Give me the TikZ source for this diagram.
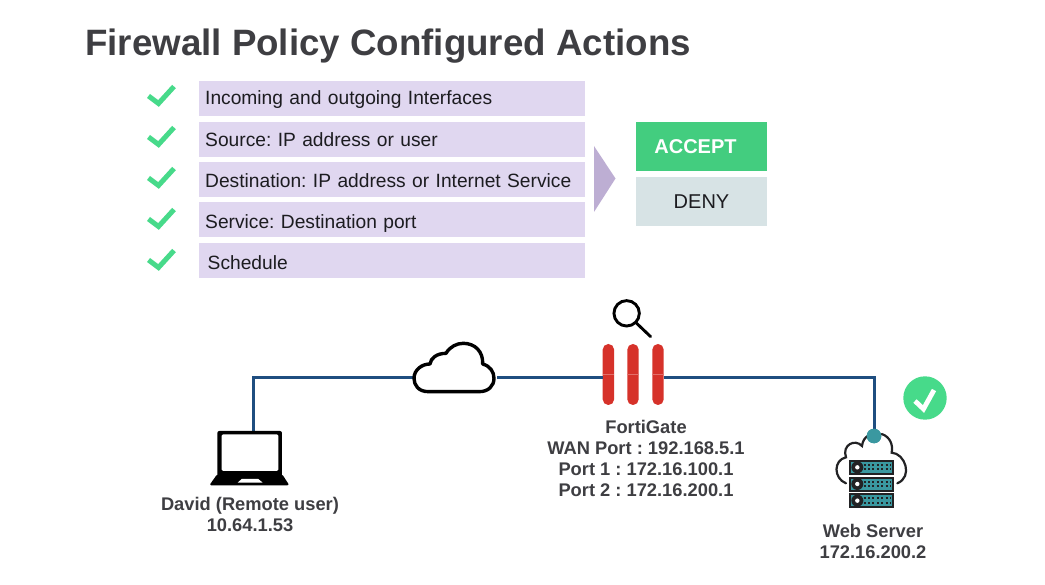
\documentclass[tikz,border=0pt]{standalone}
\usepackage{fontspec}
\setmainfont{Liberation Sans}
\usepackage{xcolor}
\usetikzlibrary{calc, shapes.geometric, positioning}

\tikzset{
    rowbox/.style={fill=rowcolor, minimum width=386.5pt, minimum height=34.5pt, anchor=west, inner xsep=6.5pt, inner ysep=0pt,
        text width=373.5pt, align=left, text depth=4pt, text height=#1, font=\fontsize{19.2}{20}\selectfont\frenchspacing, text=textdark},
    actionbox/.style={minimum width=131pt, minimum height=48.5pt, font=\fontsize{20}{22}\selectfont},
    tick/.style={line width=5pt, color=tickgreen, line join=miter},
    iconbox/.style={inner sep=0pt, outer sep=0pt},
    firebar/.style={fill=fwred, rounded corners=5.6pt, minimum width=11.4pt, minimum height=61pt, inner sep=0pt, outer sep=0pt},
    link/.style={line width=3pt, color=linkblue},
    devlabel/.style={align=center, font=\fontsize{18.3}{21}\selectfont\bfseries\frenchspacing, text=labelgray, inner sep=0pt},
}

\begin{document}
\begin{tikzpicture}[x=1pt, y=-1pt]
    \definecolor{rowcolor}{RGB}{224, 215, 240}
    \definecolor{textdark}{RGB}{28, 28, 32}
    \definecolor{labelgray}{RGB}{62, 62, 66}
    \definecolor{tickgreen}{RGB}{71, 218, 138}
    \definecolor{arrowpurple}{RGB}{189, 174, 211}
    \definecolor{acceptgreen}{RGB}{67, 205, 127}
    \definecolor{denygray}{RGB}{215, 227, 229}
    \definecolor{fwred}{RGB}{214, 50, 42}
    \definecolor{linkblue}{RGB}{31, 78, 128}
    \definecolor{tealcolor}{RGB}{58, 152, 160}
    \definecolor{icondark}{RGB}{34, 34, 36}

    \useasboundingbox (0,0) rectangle (1045,585);

    % 1. Title
    \node[anchor=base west, inner sep=0pt, text=labelgray, font=\fontsize{36.7}{40}\selectfont\bfseries] (title) at (85,55.5) {Firewall Policy Configured Actions};

    % 2. Policy rows and check marks
    \node[rowbox=15.6pt] (rowa) at (198.5,98.5) {Incoming and outgoing Interfaces};
    \node[rowbox=18.5pt] (rowb) at (198.5,139.5) {Source: IP address or user};
    \node[rowbox=19.5pt] (rowc) at (198.5,179.75) {Destination: IP address or Internet Service};
    \node[rowbox=20.6pt] (rowd) at (198.5,219.75) {Service: Destination port};
    \node[rowbox=20.6pt] (rowe) at (198.5,260.75) {\hspace*{2.5pt}Schedule};

    \draw[tick] (148.5,96) -- (158.5,103.5) -- (174,86.5);
    \draw[tick] (148.5,137) -- (158.5,144.5) -- (174,127.5);
    \draw[tick] (148.5,178) -- (158.5,185.5) -- (174,168.5);
    \draw[tick] (148.5,219) -- (158.5,226.5) -- (174,209.5);
    \draw[tick] (148.5,260) -- (158.5,267.5) -- (174,250.5);

    % 3. Arrow and actions
    \fill[arrowpurple] (594,146) -- (615.5,178.5) -- (594,212) -- cycle;
    \node[actionbox, fill=acceptgreen, text=white] (accept) at (701.5,146.5) {\hspace*{-12pt}\bfseries ACCEPT};
    \node[actionbox, fill=denygray, text=textdark] (deny) at (701.5,201.5) {DENY};

    % 4. Devices as anchors for the links
    \node[iconbox, minimum width=66pt, minimum height=44pt] (laptop) at (253,453) {};
    \node[iconbox, minimum width=84pt, minimum height=30pt] (cloudnet) at (455,378) {};
    \node[firebar] (fwa) at (608.4,374.5) {};
    \node[firebar] (fwb) at (633,374.5) {};
    \node[firebar] (fwc) at (658,374.5) {};
    \node[circle, fill=tealcolor, minimum size=14.6pt, inner sep=0pt, outer sep=0pt] (port) at (874,436) {};

    % 5. Links
    \coordinate (fwleft) at (fwa.west |- cloudnet.west);
    \coordinate (fwright) at (fwc.east |- cloudnet.east);
    \draw[link] (laptop.north) |- (cloudnet.west);
    \draw[link] (cloudnet.east) -- (fwleft);
    \draw[link] (fwright) -| (port.north);

    % 6. Firewall seams and magnifier
    \draw[fwred!70!white, line width=0.7pt] (602.7,374.5) -- +(11.4,0) (627.3,374.5) -- +(11.4,0) (652.3,374.5) -- +(11.4,0);
    \begin{scope}[shift={(400,290)}, x=0.3333pt, y=-0.3333pt]
        \draw[black, line width=2.9pt] (680,70) circle[radius=12.7pt];
        \draw[black, line width=2.9pt, line cap=round] (709,99) -- (752,140);

        % cloud outline
        \draw[black, line width=3.4pt, fill=white, line join=round]
            (85,305) .. controls (55,305) and (42,285) .. (42,265)
            .. controls (42,240) and (65,222) .. (90,222)
            .. controls (92,205) and (110,190) .. (138,190)
            .. controls (150,170) and (170,160) .. (190,160)
            .. controls (225,160) and (250,185) .. (248,222)
            .. controls (270,228) and (282,245) .. (282,265)
            .. controls (282,288) and (265,305) .. (238,305) -- cycle;
    \end{scope}

    % 7. Laptop
    \begin{scope}[shift={(200,370)}, x=0.3333pt, y=-0.3333pt]
        \fill[black, rounded corners=2pt] (52,183) rectangle (246,320);
        \fill[white, rounded corners=1.5pt] (65,193) rectangle (235,303);
        \fill[black, rounded corners=2pt] (52,312) -- (246,312) -- (268,346) -- (28,346) -- cycle;
        \fill[white] (125,327) -- (175,327) -- (188,338) -- (113,338) -- cycle;
    \end{scope}

    % 8. Web server
    \begin{scope}[shift={(820,370)}, x=0.3333pt, y=-0.3333pt]
        \draw[icondark, line width=2.2pt, line cap=round]
            (78,340) .. controls (40,325) and (40,270) .. (78,262)
            .. controls (65,225) and (105,205) .. (126,228)
            .. controls (128,212) and (135,202) .. (145,197);
        \draw[icondark, line width=2.2pt, line cap=round]
            (185,192) .. controls (210,200) and (220,225) .. (215,248)
            .. controls (255,250) and (280,320) .. (232,340);
        \foreach \ya in {270,320,370} {
            \fill[icondark] (87,\ya) rectangle (223,\ya+45);
            \fill[tealcolor] (93,\ya+6) rectangle (217,\ya+39);
            \fill[icondark] (112,\ya+22) circle[radius=6pt];
            \fill[white] (112,\ya+22) circle[radius=2.2pt];
            \draw[icondark, line width=2pt, dash pattern=on 2pt off 2.4pt] (131,\ya+15) -- (212,\ya+15);
            \draw[icondark, line width=2pt, dash pattern=on 2pt off 2.4pt] (131,\ya+28) -- (212,\ya+28);
        }
    \end{scope}
    \fill[tealcolor] (port) circle[radius=7.3pt];

    % 9. Green status badge
    \node[circle, fill=tickgreen, minimum size=43.4pt, inner sep=0pt] (okbadge) at (925,398) {};
    \draw[white, line width=4.8pt] (915,401) -- (923.5,409) -- (934,390);

    % 10. Device labels
    \node[devlabel] (fglabel) at (646,458.5) {FortiGate\\WAN Port : 192.168.5.1\\Port 1 : 172.16.100.1\\Port 2 : 172.16.200.1};
    \node[devlabel] (davidlabel) at (250,514.5) {David (Remote user)\\10.64.1.53};
    \node[devlabel] (weblabel) at (873,541.5) {Web Server\\172.16.200.2};
\end{tikzpicture}
\end{document}
